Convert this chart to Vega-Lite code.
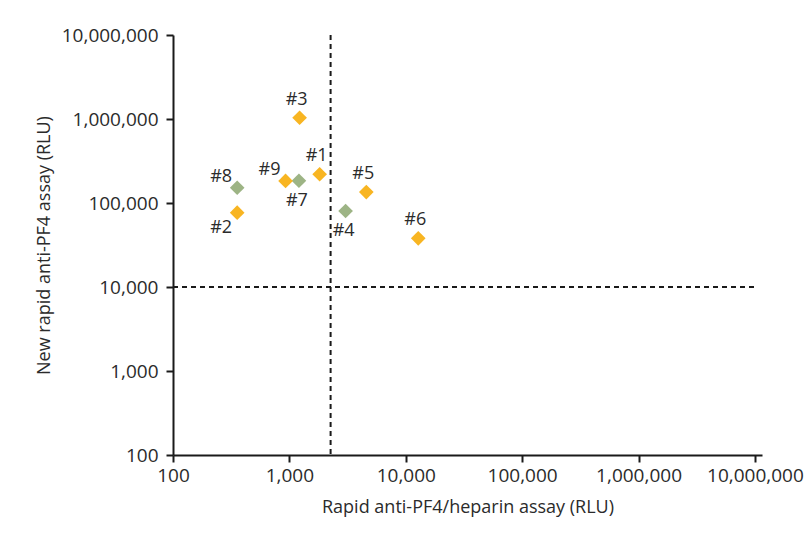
{
  "$schema": "https://vega.github.io/schema/vega-lite/v6.json",
  "autosize": "none",
  "width": 589,
  "height": 420,
  "padding": {"left": 173, "top": 35, "right": 47, "bottom": 81},
  "background": "white",
  "config": {
    "view": {"stroke": null},
    "font": "Open Sans",
    "axis": {
      "domainColor": "#1a1a1a",
      "domainWidth": 2,
      "tickColor": "#1a1a1a",
      "tickWidth": 2,
      "tickSize": 7,
      "grid": false,
      "labelFont": "Open Sans",
      "labelFontSize": 19,
      "labelColor": "#2b2b2b",
      "titleFont": "Open Sans",
      "titleFontSize": 18,
      "titleFontWeight": "normal",
      "titleColor": "#2b2b2b"
    }
  },
  "datasets": {
    "samples": [
      {"patient": "#1", "group": "A", "rapid": 1820, "newassay": 220000},
      {"patient": "#2", "group": "A", "rapid": 356, "newassay": 76700},
      {"patient": "#3", "group": "A", "rapid": 1224, "newassay": 1035000},
      {"patient": "#4", "group": "B", "rapid": 3040, "newassay": 80300},
      {"patient": "#5", "group": "A", "rapid": 4580, "newassay": 135000},
      {"patient": "#6", "group": "A", "rapid": 12800, "newassay": 38000},
      {"patient": "#7", "group": "B", "rapid": 1208, "newassay": 184000},
      {"patient": "#8", "group": "B", "rapid": 356, "newassay": 152000},
      {"patient": "#9", "group": "A", "rapid": 927, "newassay": 183000}
    ]
  },
  "data": {"name": "samples"},
  "encoding": {
    "x": {
      "field": "rapid",
      "type": "quantitative",
      "scale": {"type": "log", "domain": [100, 11500000], "nice": false},
      "axis": {
        "values": [100, 1000, 10000, 100000, 1000000, 10000000],
        "format": ",d",
        "labelPadding": 4,
        "titlePadding": 13,
        "labelFlush": false
      },
      "title": "Rapid anti-PF4/heparin assay (RLU)"
    },
    "y": {
      "field": "newassay",
      "type": "quantitative",
      "scale": {"type": "log", "domain": [100, 10000000], "nice": false},
      "axis": {
        "values": [100, 1000, 10000, 100000, 1000000, 10000000],
        "format": ",d",
        "labelPadding": 8,
        "titlePadding": 8,
        "labelFlush": false
      },
      "title": "New rapid anti-PF4 assay (RLU)"
    }
  },
  "layer": [
    {
      "data": {"values": [{"cutoff": 2260}]},
      "mark": {"type": "rule", "strokeDash": [5, 4], "strokeWidth": 2, "color": "#1a1a1a"},
      "encoding": {"x": {"field": "cutoff", "type": "quantitative"}, "y": null}
    },
    {
      "data": {"values": [{"cutoff": 10000, "from": 100, "to": 10000000}]},
      "mark": {"type": "rule", "strokeDash": [5, 4], "strokeWidth": 2, "color": "#1a1a1a"},
      "encoding": {
        "y": {"field": "cutoff", "type": "quantitative"},
        "x": {"field": "from", "type": "quantitative"},
        "x2": {"field": "to"}
      }
    },
    {
      "mark": {"type": "point", "shape": "diamond", "filled": true, "size": 215, "opacity": 1},
      "encoding": {
        "color": {
          "field": "group",
          "type": "nominal",
          "scale": {"domain": ["A", "B"], "range": ["#F8B522", "#9DB485"]},
          "legend": null
        }
      }
    },
    {
      "transform": [{"filter": {"field": "patient", "oneOf": ["#1", "#3", "#5", "#6"]}}],
      "mark": {"type": "text", "fontSize": 18, "color": "#2b2b2b", "dx": -3, "dy": -18, "align": "center", "baseline": "middle"},
      "encoding": {"text": {"field": "patient"}}
    },
    {
      "transform": [{"filter": {"field": "patient", "oneOf": ["#4", "#7"]}}],
      "mark": {"type": "text", "fontSize": 18, "color": "#2b2b2b", "dx": -2, "dy": 20, "align": "center", "baseline": "middle"},
      "encoding": {"text": {"field": "patient"}}
    },
    {
      "transform": [{"filter": {"field": "patient", "oneOf": ["#8", "#9"]}}],
      "mark": {"type": "text", "fontSize": 18, "color": "#2b2b2b", "dx": -16, "dy": -11, "align": "center", "baseline": "middle"},
      "encoding": {"text": {"field": "patient"}}
    },
    {
      "transform": [{"filter": {"field": "patient", "oneOf": ["#2"]}}],
      "mark": {"type": "text", "fontSize": 18, "color": "#2b2b2b", "dx": -16, "dy": 15, "align": "center", "baseline": "middle"},
      "encoding": {"text": {"field": "patient"}}
    }
  ]
}
